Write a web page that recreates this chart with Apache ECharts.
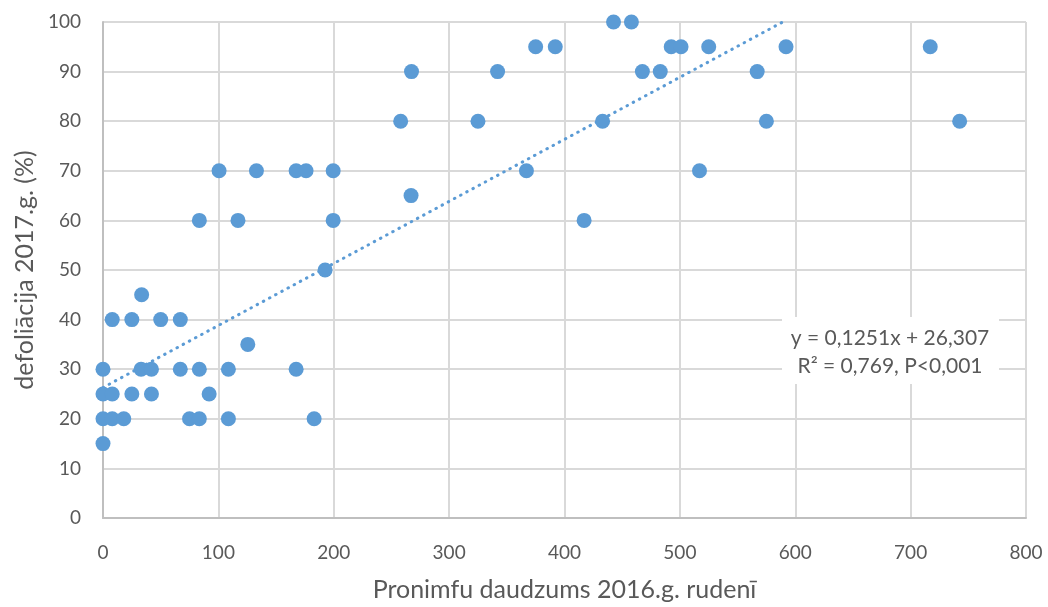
<!DOCTYPE html>
<html>
<head>
<meta charset="utf-8">
<script src="https://cdn.jsdelivr.net/npm/echarts@6/dist/echarts.min.js"></script>
<style>
html,body{margin:0;padding:0;background:#fff;}
#chart{width:1048px;height:607px;}
</style>
</head>
<body>
<div id="chart"></div>
<script>
// Pronimfu daudzums 2016.g. rudenī (x) and defoliācija 2017.g. (%) (y)
var xVals = [0,0,0,0,8,25,42,92,
  8,18,75,83.5,108.7,183,
  33,42,67,83.5,108.7,167.4,
  125.5,
  8,25,50,67,
  33.5,
  192.5,
  83.5,117,199.5,417,
  267,
  100.6,133,167.4,176,199.5,367,517,
  258,325,433,575,742.5,
  267.4,342,467.5,483,567,
  375,392,492.5,501,525,592,717,
  442.5,458];
var yVals = [30,25,20,15,25,25,25,25,
  20,20,20,20,20,20,
  30,30,30,30,30,30,
  35,
  40,40,40,40,
  45,
  50,
  60,60,60,60,
  65,
  70,70,70,70,70,70,70,
  80,80,80,80,80,
  90,90,90,90,90,
  95,95,95,95,95,95,95,
  100,100];
// linear trendline endpoints (y = 0,1251x + 26,307, clipped at 100)
var trendX = [0, 589.1];
var trendY = [26.307, 100];
var xTicks = [0,100,200,300,400,500,600,700,800];
var yTicks = [0,10,20,30,40,50,60,70,80,90,100];
var eqLines = ['y = 0,1251x + 26,307', 'R² = 0,769, P<0,001'];
var xName = 'Pronimfu daudzums 2016.g. rudenī';
var yName = 'defoliācija 2017.g. (%)';

var pts = xVals.map(function(x,i){return [x,yVals[i]];});
var trend = trendX.map(function(x,i){return [x,trendY[i]];});

var FONT = 'Lato';
var chart = echarts.init(document.getElementById('chart'), null, {renderer:'canvas'});
chart.setOption({
  backgroundColor:'#fff',
  animation:false,
  grid:{left:103,right:22,top:22,bottom:85,containLabel:false},
  xAxis:{
    type:'value',min:xTicks[0],max:xTicks[xTicks.length-1],interval:100,
    name:xName,nameLocation:'middle',nameGap:59,
    nameTextStyle:{fontFamily:FONT,fontSize:25,color:'#595959'},
    axisLine:{show:true,onZero:false,lineStyle:{color:'#BFBFBF',width:2}},
    axisTick:{show:false},
    axisLabel:{fontFamily:FONT,fontSize:19,color:'#595959',margin:25},
    splitLine:{show:true,lineStyle:{color:'#D9D9D9',width:2}}
  },
  yAxis:{
    type:'value',min:yTicks[0],max:yTicks[yTicks.length-1],interval:10,
    name:yName,nameLocation:'middle',nameGap:65,
    nameTextStyle:{fontFamily:FONT,fontSize:25,color:'#595959'},
    axisLine:{show:true,onZero:false,lineStyle:{color:'#BFBFBF',width:2}},
    axisTick:{show:false},
    axisLabel:{fontFamily:FONT,fontSize:19,color:'#595959',margin:22},
    splitLine:{show:true,lineStyle:{color:'#D9D9D9',width:2}}
  },
  series:[
    {
      type:'line',data:trend,symbol:'none',silent:true,z:3,
      lineStyle:{color:'#5B9BD5',width:3,type:[0.5,6.5],cap:'round'}
    },
    {
      type:'scatter',data:pts,symbol:'circle',symbolSize:15,z:4,
      itemStyle:{color:'#5B9BD5',opacity:1}
    }
  ],
  graphic:[
    {type:'rect',z:10,shape:{x:782,y:317,width:217,height:67},style:{fill:'#fff'}},
    {type:'text',z:11,x:890,y:338,style:{text:eqLines[0],fontFamily:FONT,fontSize:21,fill:'#595959',align:'center',verticalAlign:'middle'}},
    {type:'text',z:11,x:890,y:366,style:{text:eqLines[1],fontFamily:FONT,fontSize:21,fill:'#595959',align:'center',verticalAlign:'middle'}}
  ]
});
</script>
</body>
</html>
